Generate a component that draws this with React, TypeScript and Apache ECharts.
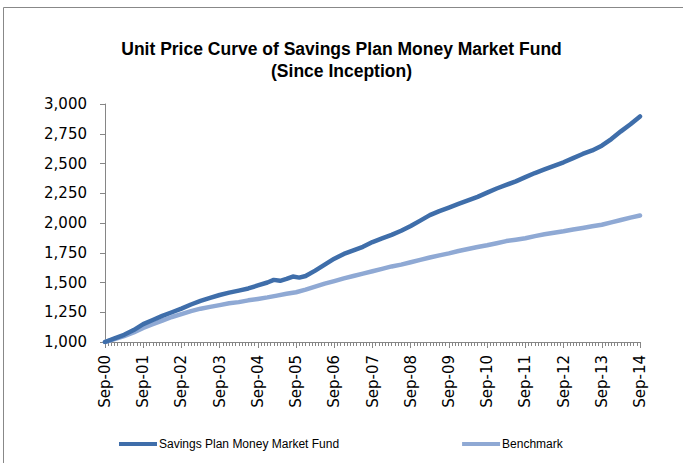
import React, { useEffect, useRef } from "react";
import * as echarts from "echarts";

// Month index since Sep-2000 (0 = Sep-00, 168 = Sep-14)
const fundMonths = [0, 3, 6, 9, 12, 15, 18, 21, 24, 27, 30, 33, 36, 39, 42, 45, 48, 51, 53, 55, 57, 59, 61, 63, 66, 69, 72, 75, 78, 81, 84, 87, 90, 93, 96, 99, 102, 105, 108, 111, 114, 117, 120, 123, 126, 129, 132, 135, 138, 141, 144, 147, 150, 153, 156, 159, 162, 165, 168];
const fundValues = [1000, 1030, 1060, 1100, 1150, 1185, 1220, 1250, 1281, 1315, 1345, 1370, 1395, 1415, 1432, 1450, 1475, 1500, 1522, 1514, 1530, 1550, 1541, 1555, 1600, 1650, 1700, 1740, 1770, 1800, 1840, 1870, 1900, 1935, 1975, 2020, 2066, 2100, 2130, 2160, 2190, 2220, 2255, 2290, 2320, 2350, 2385, 2420, 2450, 2480, 2510, 2545, 2580, 2610, 2650, 2705, 2770, 2830, 2895];

const benchMonths = [0, 3, 6, 9, 12, 15, 18, 21, 24, 27, 30, 33, 36, 39, 42, 45, 48, 51, 54, 57, 60, 63, 66, 69, 72, 75, 78, 81, 84, 87, 90, 93, 96, 99, 102, 105, 108, 111, 114, 117, 120, 123, 126, 129, 132, 135, 138, 141, 144, 147, 150, 153, 156, 159, 162, 165, 168];
const benchValues = [1000, 1025, 1050, 1080, 1118, 1150, 1180, 1210, 1235, 1260, 1280, 1295, 1310, 1325, 1335, 1350, 1362, 1375, 1390, 1405, 1418, 1440, 1465, 1490, 1512, 1535, 1555, 1575, 1595, 1615, 1635, 1650, 1670, 1690, 1710, 1728, 1745, 1765, 1782, 1798, 1813, 1830, 1848, 1860, 1872, 1890, 1905, 1918, 1930, 1945, 1958, 1972, 1985, 2005, 2025, 2045, 2063];

const xTickLabels = ["Sep-00", "Sep-01", "Sep-02", "Sep-03", "Sep-04", "Sep-05", "Sep-06", "Sep-07", "Sep-08", "Sep-09", "Sep-10", "Sep-11", "Sep-12", "Sep-13", "Sep-14"];
const seriesNames = ["Savings Plan Money Market Fund", "Benchmark"];
const titleText = "Unit Price Curve of Savings Plan Money Market Fund\n(Since Inception)";

export default function App() {
  const ref = useRef<HTMLDivElement>(null);
  useEffect(() => {
    if (!ref.current) return;
    const chart = echarts.init(ref.current, null, { renderer: "svg" });
    const axisColor = "#868686";
    chart.setOption({
      animation: false,
      backgroundColor: "#ffffff",
      title: {
        text: titleText,
        left: "center",
        top: 33,
        textStyle: {
          fontFamily: "Liberation Sans, Arial, sans-serif",
          fontSize: 17.5,
          fontWeight: "bold",
          color: "#000",
          lineHeight: 22,
        },
      },
      graphic: [
        {
          type: "rect",
          shape: { x: 3.5, y: 7.5, width: 720, height: 520 },
          style: { fill: "none", stroke: "#888888", lineWidth: 1 },
          silent: true,
        },
      ],
      legend: {
        left: 114,
        top: 433,
        itemWidth: 38,
        itemHeight: 4,
        itemGap: 123,
        icon: "rect",
        textStyle: {
          fontFamily: "Liberation Sans, Arial, sans-serif",
          fontSize: 12,
          color: "#000",
          padding: [0, 0, 0, -3],
        },
        data: seriesNames,
      },
      grid: { left: 105, right: 43, top: 104, bottom: 121, containLabel: false },
      xAxis: {
        type: "value",
        min: 0,
        max: 168,
        interval: 12,
        axisLine: { lineStyle: { color: axisColor, width: 1 } },
        axisTick: { show: true, length: 6, inside: false, lineStyle: { color: axisColor } },
        minorTick: { show: true, splitNumber: 12, length: 4, lineStyle: { color: axisColor } },
        splitLine: { show: false },
        axisLabel: {
          rotate: 90,
          margin: 13,
          fontFamily: "DejaVu Sans, sans-serif",
          fontSize: 15,
          color: "#000",
          formatter: (v: number) => xTickLabels[Math.round(v / 12)] ?? "",
        },
      },
      yAxis: {
        type: "value",
        min: 1000,
        max: 3000,
        interval: 250,
        axisLine: { show: true, lineStyle: { color: axisColor, width: 1 } },
        axisTick: { show: true, length: 5, lineStyle: { color: axisColor } },
        splitLine: { show: false },
        axisLabel: {
          margin: 18,
          fontFamily: "DejaVu Sans, sans-serif",
          fontSize: 15,
          color: "#000",
          formatter: (v: number) => v.toLocaleString("en-US"),
        },
      },
      series: [
        {
          name: seriesNames[1],
          type: "line",
          data: benchMonths.map((m, i) => [m, benchValues[i]]),
          showSymbol: false,
          color: "#8FA9D4",
          lineStyle: { width: 4.5, color: "#8FA9D4", cap: "round", join: "round" },
          z: 2,
        },
        {
          name: seriesNames[0],
          type: "line",
          data: fundMonths.map((m, i) => [m, fundValues[i]]),
          showSymbol: false,
          color: "#3F6EAA",
          lineStyle: { width: 4.5, color: "#3F6EAA", cap: "round", join: "round" },
          z: 3,
        },
      ],
    });
    return () => chart.dispose();
  }, []);
  return (
    <div
      ref={ref}
      style={{ position: "absolute", left: 0, top: 0, width: 683, height: 463 }}
    />
  );
}
